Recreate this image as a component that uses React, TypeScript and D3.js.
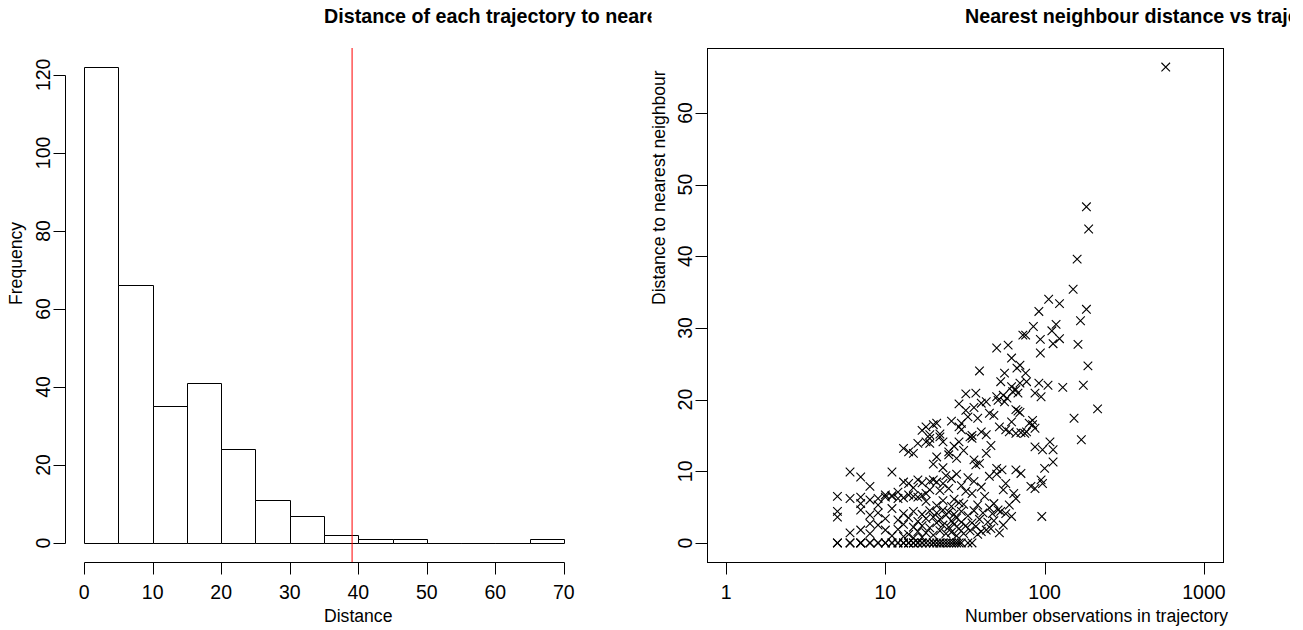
import React from "react";
import * as d3 from "d3";

// ---- Histogram of nearest-neighbour distances ----
const histBreaks = [0, 5, 10, 15, 20, 25, 30, 35, 40, 45, 50, 55, 60, 65, 70];
const histCounts = [122, 66, 35, 41, 24, 11, 7, 2, 1, 1, 0, 0, 0, 1];
const cutoffDistance = 39.1;
const histXTicks = [0, 10, 20, 30, 40, 50, 60, 70];
const histYTicks = [0, 20, 40, 60, 80, 100, 120];

// ---- Scatter: observations per trajectory vs nearest-neighbour distance ----
// trajectories whose nearest neighbour is at distance 0 (number of observations)
const zeroDistanceObs = [
  5, 5, 6, 6, 7, 7, 7, 8, 8, 9, 9, 10, 10, 11, 11, 12, 12, 13, 13, 14, 14, 15,
  15, 16, 16, 17, 17, 18, 19, 20, 20, 21, 22, 22, 23, 24, 25, 26, 27, 28, 29,
  30, 33, 35,
];
// [observations, distance] with 0 < distance < 5
const band0to5: [number, number][] = [
  [5, 4.4], [5, 3.6], [6, 1.4], [7, 4.6], [7, 1.8], [8, 3.9], [8, 1.3], [9, 2.5],
  [10, 1.8], [11, 4.8], [11, 1.0], [45, 4.9], [47, 4.1], [51, 4.6], [53, 4.4],
  [57, 4.1], [62, 3.7], [96, 3.7], [37, 2.3], [40, 1.6], [43, 1.8], [46, 2.0],
  [12, 3.2], [12, 1.9], [13, 4.1], [13, 2.6], [13, 0.9], [14, 3.5], [14, 1.2],
  [15, 4.4], [15, 2.2], [15, 0.7], [16, 3.0], [16, 1.6], [17, 4.0], [17, 2.4],
  [17, 0.8], [18, 3.4], [18, 1.4], [19, 4.5], [19, 2.1], [20, 3.6], [20, 1.1],
  [21, 2.8], [21, 4.2], [22, 1.7], [22, 3.3], [23, 2.5], [23, 4.6], [24, 1.3],
  [24, 3.9], [25, 2.2], [25, 4.3], [26, 1.5], [26, 3.1], [27, 2.6], [27, 4.0],
  [28, 1.0], [28, 3.5], [29, 2.0], [30, 2.9], [30, 4.4], [31, 1.3], [32, 2.4],
  [33, 3.8], [34, 1.7], [35, 2.8], [36, 4.5], [38, 1.2], [39, 3.3], [41, 4.2],
  [44, 2.9], [48, 3.1], [52, 1.4], [55, 2.5], [10, 3.4], [9, 4.2], [8, 2.7],
];
const band5to10: [number, number][] = [
  [6, 9.9], [6, 6.2], [7, 9.2], [7, 6.4], [7, 5.5], [8, 7.9], [8, 6.0], [9, 6.2],
  [10, 6.7], [11, 9.9], [11, 6.5], [5, 6.5], [71, 9.7], [95, 8.8], [97, 8.3],
  [82, 7.9], [87, 7.6], [57, 8.3], [64, 6.9], [66, 6.2], [55, 7.4], [13, 8.5],
  [14, 8.3], [16, 8.8], [17, 8.4], [19, 8.6], [20, 8.8], [21, 8.5], [23, 8.3],
  [10, 6.4], [11, 6.6], [12, 6.2], [13, 6.3], [14, 6.7], [15, 6.5], [16, 6.4],
  [17, 6.6], [18, 6.9], [24, 9.4], [26, 9.0], [28, 9.6], [30, 8.0], [32, 7.2],
  [33, 9.1], [36, 8.6], [40, 7.8], [42, 6.5], [45, 9.3], [48, 5.5], [60, 5.3],
  [22, 7.3], [25, 7.6], [27, 6.1], [29, 5.6], [21, 5.2], [19, 7.4], [15, 7.7],
  [12, 7.1], [9, 5.3], [31, 5.4], [35, 6.9], [18, 5.8], [23, 5.9], [38, 5.3],
  [50, 9.6], [26, 5.1],
];
const band10to15: [number, number][] = [
  [35, 14.6], [34, 14.8], [170, 14.4], [19, 14.6], [18, 14.1], [19, 13.9],
  [22, 14.8], [23, 14.1], [25, 12.7], [25, 12.3], [13, 13.2], [14, 12.7],
  [16, 13.9], [29, 14.1], [43, 12.5], [36, 11.6], [37, 10.9], [39, 11.1],
  [50, 10.4], [54, 10.2], [66, 10.2], [100, 10.4], [113, 11.3], [97, 13.0],
  [108, 14.1], [113, 13.0], [87, 13.4], [15, 12.5], [21, 12.0], [27, 13.5],
  [31, 12.9], [20, 11.0], [23, 10.5], [28, 11.8], [46, 13.6],
];
const band15to20: [number, number][] = [
  [29, 19.4], [40, 19.5], [43, 19.7], [45, 18.1], [51, 19.9], [56, 19.7],
  [66, 18.6], [68, 18.4], [70, 18.2], [32, 18.5], [33, 17.6], [84, 17.1],
  [80, 16.7], [153, 17.4], [215, 18.7], [18, 16.2], [20, 16.5], [21, 16.7],
  [30, 15.8], [30, 16.7], [29, 16.2], [35, 15.0], [40, 15.5], [43, 15.1],
  [52, 16.2], [57, 15.8], [60, 15.5], [66, 15.3], [71, 15.4], [75, 15.3],
  [77, 15.5], [87, 16.0], [84, 16.5], [19, 15.1], [22, 15.2], [17, 15.7],
  [26, 17.0], [38, 17.4], [62, 16.9], [48, 17.8], [36, 18.9],
];
const band20to25: [number, number][] = [
  [70, 24.8], [67, 24.4], [187, 24.7], [39, 24.0], [56, 23.7], [76, 23.7],
  [53, 22.5], [62, 21.8], [70, 22.3], [77, 22.5], [92, 22.3], [105, 22.0],
  [130, 21.7], [175, 22.0], [68, 20.9], [32, 20.8], [37, 20.9], [50, 20.4],
  [55, 20.6], [58, 20.2], [63, 21.1], [66, 21.4], [87, 20.9], [95, 20.4],
];
const band25plus: [number, number][] = [
  [111, 29.6], [73, 29.0], [76, 29.0], [94, 28.4], [124, 28.5], [113, 27.8],
  [162, 27.7], [59, 27.6], [50, 27.2], [94, 26.5], [62, 25.8],
  [106, 34.0], [124, 33.4], [183, 32.6], [92, 32.3], [168, 31.0], [118, 30.5],
  [85, 30.2], [160, 39.6], [151, 35.4], [189, 43.8], [183, 46.9], [576, 66.4],
];
const scatterXTicks = [1, 10, 100, 1000];
const scatterYTicks = [0, 10, 20, 30, 40, 50, 60];

const W = 1303;
const H = 630;
const FONT = "'Liberation Sans', Arial, Helvetica, sans-serif";
const TICK_FS = 19.5;
const LAB_FS = 17.6;
const TITLE_FS = 19.7;

// plot regions (R-style, 4% axis extension)
const top = 48;
const bottom = 562;
const leftPanel = { x0: 65, x1: 583 };
const rightPanel = { x0: 707, x1: 1223 };

function ext(lo: number, hi: number): [number, number] {
  const d = (hi - lo) * 0.04;
  return [lo - d, hi + d];
}

export default function App() {
  // histogram scales
  const xH = d3.scaleLinear().domain(ext(0, 70)).range([leftPanel.x0, leftPanel.x1]);
  const yH = d3.scaleLinear().domain(ext(0, d3.max(histCounts) as number)).range([bottom, top]);

  // scatter data
  const points: [number, number][] = [
    ...zeroDistanceObs.map((n) => [n, 0] as [number, number]),
    ...band0to5,
    ...band5to10,
    ...band10to15,
    ...band15to20,
    ...band20to25,
    ...band25plus,
  ];
  const xS = d3
    .scaleLog()
    .domain(ext(0, 3).map((e) => Math.pow(10, e)))
    .range([rightPanel.x0, rightPanel.x1]);
  const yS = d3
    .scaleLinear()
    .domain(ext(0, d3.max(points, (p) => p[1]) as number))
    .range([bottom, top]);

  const px = (v: number) => Math.round(v) + 0.5;
  const tickLen = 12;
  const midL = (leftPanel.x0 + leftPanel.x1) / 2;
  const midR = (rightPanel.x0 + rightPanel.x1) / 2;
  const midY = (top + bottom) / 2;

  const cross = "M-4.3,-4.3L4.3,4.3M-4.3,4.3L4.3,-4.3";

  return (
    <svg
      width={W}
      height={H}
      viewBox={`0 0 ${W} ${H}`}
      style={{ position: "absolute", left: 0, top: 0, background: "#fff" }}
      fontFamily={FONT}
    >
      <defs>
        <clipPath id="leftClip">
          <rect x={0} y={0} width={W / 2} height={H} />
        </clipPath>
        <clipPath id="rightClip">
          <rect x={W / 2} y={0} width={1290 - W / 2} height={H} />
        </clipPath>
      </defs>
      <rect x={0} y={0} width={W} height={H} fill="#fff" />

      {/* ===== Left panel: histogram ===== */}
      <g clipPath="url(#leftClip)">
        <text x={midL} y={23} fontSize={TITLE_FS} fontWeight="bold" fill="#000">
          Distance of each trajectory to nearest neighbour
        </text>
      </g>
      <g fill="#fff" stroke="#000" strokeWidth={1}>
        {histCounts.map((c, i) => {
          const x0 = px(xH(histBreaks[i]));
          const x1 = px(xH(histBreaks[i + 1]));
          const y0 = px(yH(0));
          const y1 = px(yH(c));
          return <path key={i} d={`M${x0},${y0}V${y1}H${x1}V${y0}Z`} />;
        })}
      </g>
      <line
        x1={xH(cutoffDistance)}
        x2={xH(cutoffDistance)}
        y1={top}
        y2={bottom}
        stroke="#ff0000"
        strokeWidth={1}
      />
      {/* x axis */}
      <g stroke="#000" strokeWidth={1}>
        <line x1={px(xH(0))} x2={px(xH(70))} y1={px(bottom)} y2={px(bottom)} />
        {histXTicks.map((t) => (
          <line key={t} x1={px(xH(t))} x2={px(xH(t))} y1={px(bottom)} y2={px(bottom) + tickLen} />
        ))}
      </g>
      {histXTicks.map((t) => (
        <text key={t} x={xH(t)} y={599} fontSize={TICK_FS} textAnchor="middle" fill="#000">
          {t}
        </text>
      ))}
      <text x={midL} y={622} fontSize={LAB_FS} fill="#000">
        Distance
      </text>
      {/* y axis */}
      <g stroke="#000" strokeWidth={1}>
        <line x1={px(leftPanel.x0)} x2={px(leftPanel.x0)} y1={px(yH(0))} y2={px(yH(120))} />
        {histYTicks.map((t) => (
          <line key={t} x1={px(leftPanel.x0)} x2={px(leftPanel.x0) - tickLen} y1={px(yH(t))} y2={px(yH(t))} />
        ))}
      </g>
      {histYTicks.map((t) => (
        <text
          key={t}
          transform={`translate(${leftPanel.x0 - 15},${yH(t)}) rotate(-90)`}
          fontSize={TICK_FS}
          textAnchor="middle"
          fill="#000"
        >
          {t}
        </text>
      ))}
      <text transform={`translate(22,${midY}) rotate(-90)`} fontSize={LAB_FS} fill="#000">
        Frequency
      </text>

      {/* ===== Right panel: scatter ===== */}
      <g clipPath="url(#rightClip)">
        <text x={midR} y={23} fontSize={TITLE_FS} fontWeight="bold" fill="#000">
          Nearest neighbour distance vs trajectory length
        </text>
      </g>
      <rect
        x={px(rightPanel.x0)}
        y={px(top)}
        width={Math.round(rightPanel.x1) - Math.round(rightPanel.x0)}
        height={bottom - top}
        fill="none"
        stroke="#000"
        strokeWidth={1}
      />
      <g stroke="#000" strokeWidth={1.1} fill="none">
        {points.map((p, i) => (
          <path key={i} transform={`translate(${xS(p[0])},${yS(p[1])})`} d={cross} />
        ))}
      </g>
      <g stroke="#000" strokeWidth={1}>
        {scatterXTicks.map((t) => (
          <line key={t} x1={px(xS(t))} x2={px(xS(t))} y1={px(bottom)} y2={px(bottom) + tickLen} />
        ))}
        {scatterYTicks.map((t) => (
          <line key={t} x1={px(rightPanel.x0)} x2={px(rightPanel.x0) - tickLen} y1={px(yS(t))} y2={px(yS(t))} />
        ))}
      </g>
      {scatterXTicks.map((t) => (
        <text key={t} x={xS(t)} y={599} fontSize={TICK_FS} textAnchor="middle" fill="#000">
          {t}
        </text>
      ))}
      {scatterYTicks.map((t) => (
        <text
          key={t}
          transform={`translate(${rightPanel.x0 - 15},${yS(t)}) rotate(-90)`}
          fontSize={TICK_FS}
          textAnchor="middle"
          fill="#000"
        >
          {t}
        </text>
      ))}
      <text x={midR} y={622} fontSize={LAB_FS} fill="#000">
        Number observations in trajectory
      </text>
      <text transform={`translate(${rightPanel.x0 - 42},${midY}) rotate(-90)`} fontSize={LAB_FS} fill="#000">
        Distance to nearest neighbour
      </text>
    </svg>
  );
}
